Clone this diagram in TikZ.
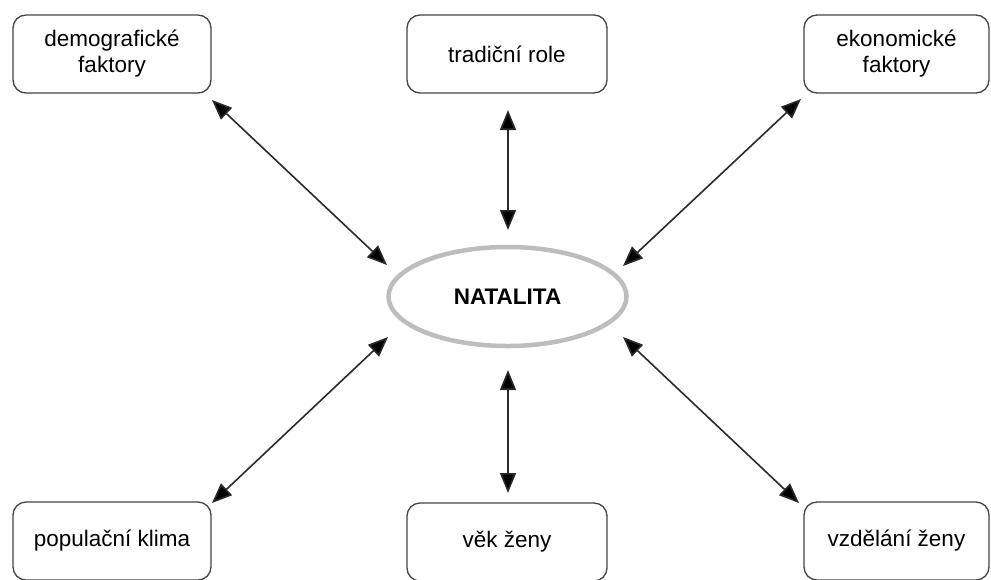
\documentclass[tikz,border=0pt]{standalone}
\usepackage{fontspec}
\setmainfont{Liberation Sans}
\usetikzlibrary{arrows.meta,shapes.geometric}
\definecolor{boxline}{HTML}{444444}
\definecolor{ellline}{HTML}{BDBDBD}
\definecolor{arrline}{HTML}{2A2A2A}
\tikzset{
  fbox/.style={draw=boxline, line width=1.3pt, rounded corners=13pt, fill=white,
    minimum width=#1, minimum height=78pt, inner sep=0pt, align=center,
    font=\fontsize{22.5}{26}\selectfont},
  fbox/.default=198pt,
  centre/.style={draw=ellline, line width=4.5pt, ellipse, minimum width=238pt,
    minimum height=99pt, inner sep=0pt, font=\fontsize{22.5}{26}\selectfont\bfseries},
  link/.style={draw=arrline, line width=1.6pt,
    {Triangle[length=20pt,width=16pt,fill=black]}-{Triangle[length=20pt,width=16pt,fill=black]}},
}
\begin{document}
\begin{tikzpicture}[x=1pt,y=-1pt]
\useasboundingbox (0,0) rectangle (991,579);
\fill[white] (0,0) rectangle (991,579);
% nodes
\node[fbox] (dem) at (112,54) {demografické\\faktory};
\node[fbox=200pt] (trad) at (507,54) {tradiční role};
\node[fbox=185pt] (eko) at (896.5,54) {ekonomické\\faktory};
\node[fbox] (pop) at (112,541) {populační klima};
\node[fbox=200pt] (vek) at (507,542) {věk ženy};
\node[fbox=185pt] (vzd) at (896.5,541) {vzdělání ženy};
\node[centre] (nat) at (507.5,296.5) {NATALITA};
% arrow end points
\coordinate (demE) at (212,100);
\coordinate (demN) at (387,265);
\coordinate (tradE) at (508,110);
\coordinate (tradN) at (508,230);
\coordinate (ekoE) at (801,99);
\coordinate (ekoN) at (623,266);
\coordinate (popE) at (212,503);
\coordinate (popN) at (388,337);
\coordinate (vekE) at (508,493);
\coordinate (vekN) at (508,370);
\coordinate (vzdE) at (799,503);
\coordinate (vzdN) at (623,337);
% connectors
\draw[link] (demE) -- (demN);
\draw[link] (tradE) -- (tradN);
\draw[link] (ekoE) -- (ekoN);
\draw[link] (popE) -- (popN);
\draw[link] (vekE) -- (vekN);
\draw[link] (vzdE) -- (vzdN);
\end{tikzpicture}
\end{document}
